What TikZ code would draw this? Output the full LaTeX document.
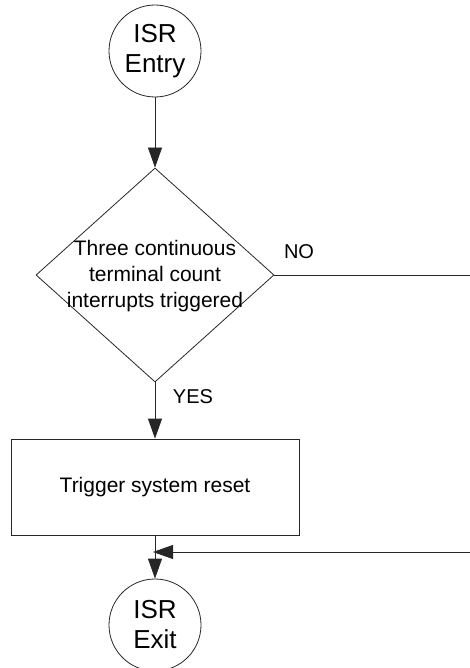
\documentclass[tikz,border=0pt]{standalone}
\usepackage{fontspec}
\setmainfont{Liberation Sans}
\usetikzlibrary{shapes.geometric,arrows.meta,positioning}
\tikzset{
	terminal/.style={draw=black!85, line width=0.8pt, circle, minimum size=92pt, inner sep=0pt, align=center, font=\fontsize{26}{30}\selectfont},
	decision/.style={draw=black!85, line width=0.8pt, diamond, minimum width=238pt, minimum height=214pt, inner sep=0pt},
	process/.style={draw=black!85, line width=0.8pt, rectangle, minimum width=288pt, minimum height=96pt, font=\fontsize{21}{26}\selectfont},
	flow/.style={draw=black!85, line width=0.8pt, -{Triangle[length=20pt,width=14pt]}},
	plain/.style={draw=black!85, line width=0.8pt},
	answer/.style={font=\fontsize{20}{24}\selectfont, inner sep=0pt}
}
\begin{document}
\begin{tikzpicture}[x=1pt, y=1pt]
		\useasboundingbox (0, 0) rectangle (470, -668);
		\node[terminal] (entry) at (155, -51) {ISR\\Entry};
		\node[decision] (check) at (155, -275) {};
		\node[align=center, font=\fontsize{21}{26}\selectfont, inner sep=0pt] (checktext) at (155, -276) {Three continuous\\terminal count\\interrupts triggered};
		\node[process] (reset) at (155, -487) {Trigger system reset};
		\node[terminal] (exit) at (155, -625) {ISR\\Exit};
		\coordinate (noend) at (470, -275);
		\coordinate (backin) at (470, -552);
		\coordinate (merge) at (153, -552);
		\draw[flow] (entry) -- (check.north);
		\draw[flow] (check.south) -- (reset.north);
		\draw[flow] (reset.south) -- (exit.north);
		\draw[plain] (check.east) -- (noend);
		\draw[flow] (backin) -- (merge);
		\node[answer] (yes) at (193, -397) {YES};
		\node[answer] (no) at (299, -252) {NO};
	\end{tikzpicture}
\end{document}
